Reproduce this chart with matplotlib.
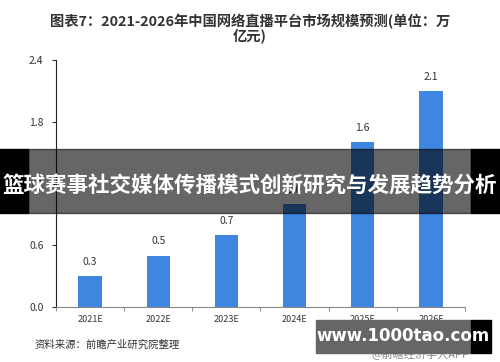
import matplotlib
matplotlib.use("Agg")
import matplotlib.pyplot as plt
from matplotlib.patches import Rectangle
import numpy as np

plt.rcParams['font.family'] = ['Noto Sans CJK SC', 'DejaVu Sans']

# data
years = ['2021E', '2022E', '2023E', '2024E', '2025E', '2026E']
market_size = [0.3, 0.5, 0.7, 1.0, 1.6, 2.1]
yticks = [0.0, 0.6, 1.2, 1.8, 2.4]

title = '图表7：2021-2026年中国网络直播平台市场规模预测(单位：万\n亿元)'
source = '资料来源：前瞻产业研究院整理'
banner = '篮球赛事社交媒体传播模式创新研究与发展趋势分析'
site = 'www.1000tao.com'

fig = plt.figure(figsize=(5, 3.62), dpi=100)
ax = fig.add_axes([0.112, 0.152, 0.818, 0.682])

x = np.arange(len(years))
bars = ax.bar(x, market_size, width=0.34, color='#3f86e0', zorder=2)

# value labels
for bar, v in zip(bars, market_size):
    ax.text(bar.get_x() + bar.get_width() / 2, v + 0.09, f'{v:.1f}',
            ha='center', va='bottom', fontsize=7.5, color='#333333')

ax.set_xlim(-0.5, len(years) - 0.5)
ax.set_ylim(0, 2.4)
ax.set_yticks(yticks)
ax.set_yticklabels([f'{t:.1f}' for t in yticks], fontsize=7.5, color='#333333')
ax.set_xticks(x)
ax.set_xticklabels(years, fontsize=6.5, color='#333333')
ax.set_xticks(np.arange(-0.5, len(years)), minor=True)
ax.tick_params(axis='x', which='major', length=0, pad=6)
ax.tick_params(axis='x', which='minor', length=3, color='#777777')
ax.tick_params(axis='y', length=3, color='#333333', pad=6)

for s in ['top', 'right']:
    ax.spines[s].set_visible(False)
ax.spines['left'].set_color('#222222')
ax.spines['bottom'].set_color('#888888')

# title and source
fig.text(0.5, 0.962, title, ha='center', va='top', fontsize=10.3,
         fontweight='bold', color='#333333', linespacing=0.95)
fig.text(0.07, 0.047, source, ha='left', va='center', fontsize=7.5,
         color='#333333')
fig.text(0.84, 0.022, '@前瞻经济学人APP', ha='center', va='center',
         fontsize=8, color='#888888')

# overlay banner
H = 362.0
def frect(x0, y0, x1, y1, **kw):
    fig.patches.append(Rectangle((x0 / 500, 1 - y1 / H), (x1 - x0) / 500,
                                 (y1 - y0) / H, transform=fig.transFigure,
                                 **kw))

frect(0, 149, 28, 213, color='black', zorder=10)
frect(471, 149, 500, 213, color='black', zorder=10)
frect(28, 149, 471, 213, color='black', alpha=0.6, zorder=10)
fig.text(0.5, 1 - 185 / H, banner, ha='center', va='center', fontsize=15.5,
         fontweight='bold', color='white', zorder=11)

frect(316, 320, 471, 353, color='#666666', zorder=10)
frect(471, 320, 491, 353, color='black', zorder=10)
fig.text(403 / 500, 1 - 336 / H, site, ha='center', va='center',
         fontsize=12, fontweight='bold', color='white', zorder=11,
         family='DejaVu Sans')

fig.savefig('out.png', dpi=100)
